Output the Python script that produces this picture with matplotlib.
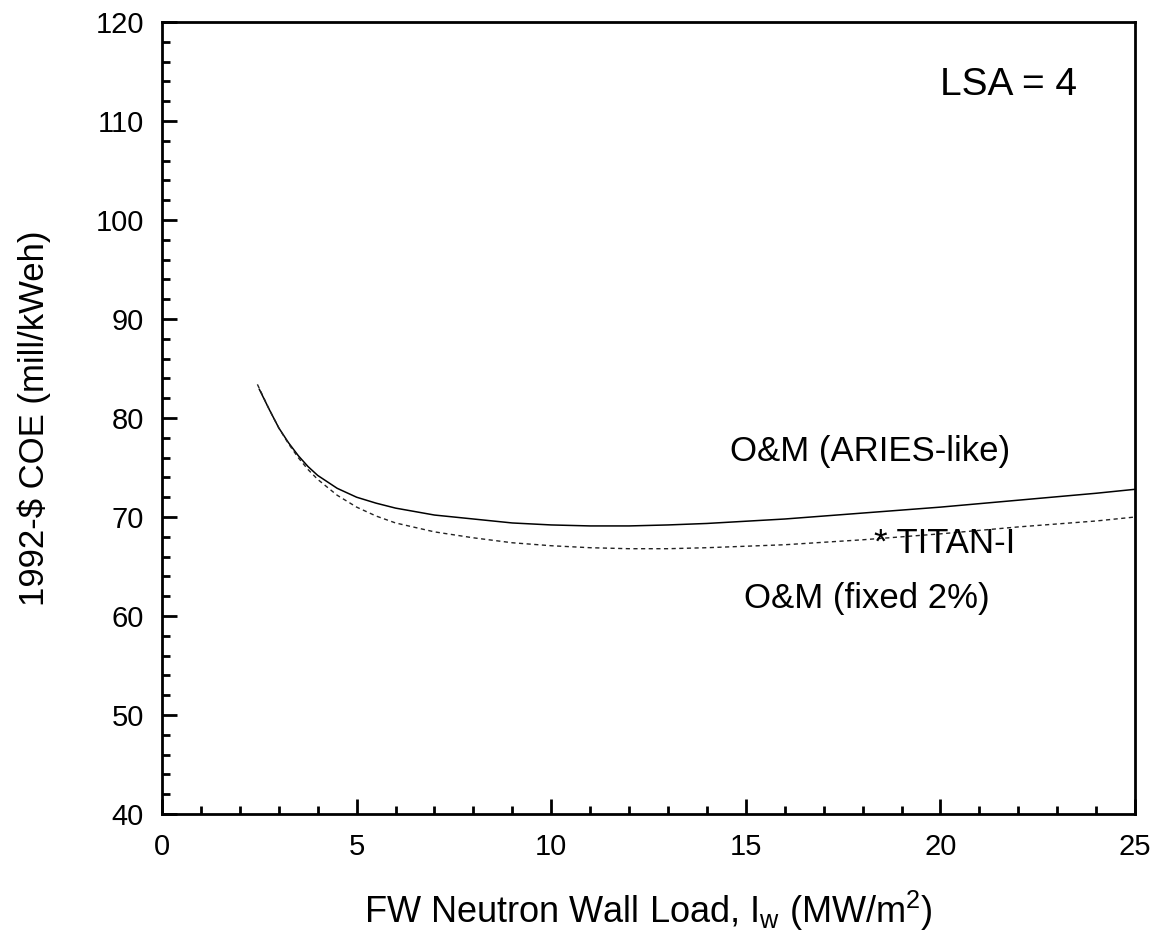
import matplotlib.pyplot as plt
from matplotlib.ticker import MultipleLocator

plt.rcParams['font.family'] = ['Liberation Sans', 'DejaVu Sans']

# O&M (ARIES-like) curve
aries_x = [2.5, 2.75, 3.0, 3.25, 3.5, 3.75, 4.0, 4.5, 5.0, 5.5, 6.0, 7.0, 8.0, 9.0, 10.0,
           11.0, 12.0, 13.0, 14.0, 16.0, 18.0, 20.0, 22.0, 24.0, 25.0]
aries_y = [82.9, 80.9, 79.0, 77.5, 76.2, 75.1, 74.2, 72.9, 72.0, 71.4, 70.9, 70.2, 69.8, 69.4, 69.2,
           69.1, 69.1, 69.2, 69.35, 69.8, 70.4, 71.0, 71.7, 72.4, 72.8]

# O&M (fixed 2%) curve
fixed_x = [2.45, 2.75, 3.0, 3.25, 3.5, 3.75, 4.0, 4.5, 5.0, 5.5, 6.0, 7.0, 8.0, 9.0, 10.0,
           11.0, 12.0, 13.0, 14.0, 16.0, 18.0, 20.0, 22.0, 24.0, 25.0]
fixed_y = [83.4, 80.9, 79.0, 77.4, 76.0, 74.8, 73.8, 72.2, 71.0, 70.1, 69.4, 68.5, 67.9, 67.4, 67.1,
           66.9, 66.8, 66.8, 66.9, 67.2, 67.7, 68.3, 69.0, 69.6, 70.0]

# TITAN-I design point
titan_x = 18.3
titan_y = 67.3

fig = plt.figure(figsize=(11.55, 9.36), dpi=100)
ax = fig.add_axes([0.1403, 0.1303, 0.8424, 0.8462])

ax.plot(aries_x, aries_y, color='black', lw=1.1)
ax.plot(fixed_x, fixed_y, color='#222222', lw=1.0, dashes=(3, 2.5))

ax.text(titan_x, titan_y, '* TITAN-I', fontsize=25, va='center', ha='left')
ax.text(14.6, 76.6, 'O&M (ARIES-like)', fontsize=25, va='center', ha='left')
ax.text(14.95, 61.8, 'O&M (fixed 2%)', fontsize=25, va='center', ha='left')
ax.text(23.5, 113.6, 'LSA = 4', fontsize=28, va='center', ha='right')

ax.set_xlim(0, 25)
ax.set_ylim(40, 120)
ax.xaxis.set_major_locator(MultipleLocator(5))
ax.xaxis.set_minor_locator(MultipleLocator(1))
ax.yaxis.set_major_locator(MultipleLocator(10))
ax.yaxis.set_minor_locator(MultipleLocator(2))

ax.tick_params(which='both', direction='in', top=False, right=False, width=2)
ax.tick_params(which='major', length=11, labelsize=21)
ax.tick_params(which='minor', length=6)
ax.tick_params(axis='x', pad=14)
ax.tick_params(axis='y', pad=13)
for s in ax.spines.values():
    s.set_linewidth(2)

ax.set_xlabel(r'FW Neutron Wall Load, I$_{\mathregular{w}}$ (MW/m$^{\mathregular{2}}$)',
              fontsize=26, labelpad=20)
ax.set_ylabel('1992-$ COE (mill/kWeh)', fontsize=25, labelpad=32)

fig.savefig('out.png', dpi=100)
